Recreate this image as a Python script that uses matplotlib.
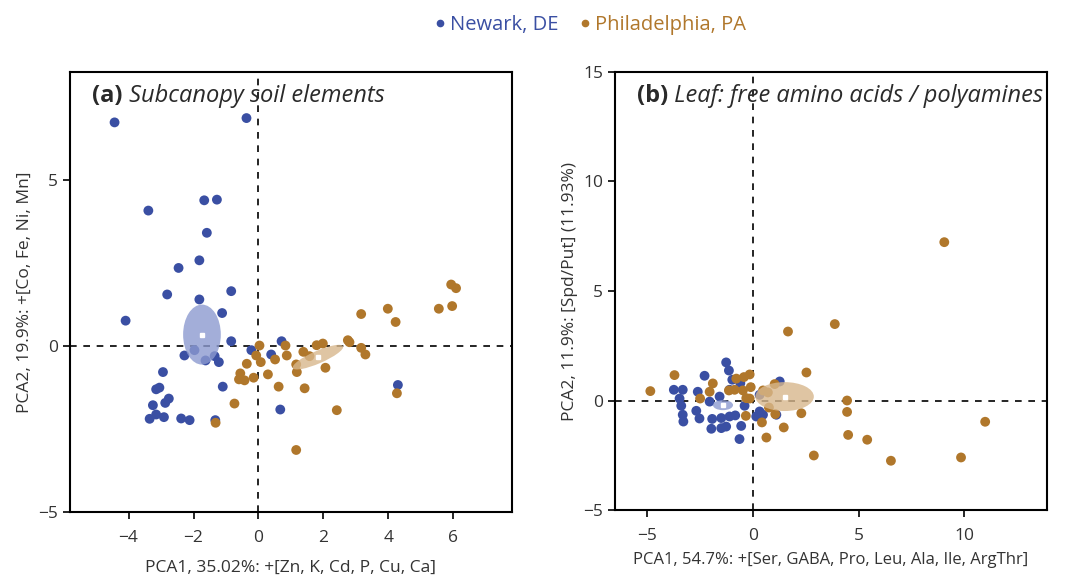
import matplotlib
matplotlib.use("Agg")
import matplotlib.pyplot as plt
from matplotlib.patches import Ellipse
from matplotlib.lines import Line2D

plt.rcParams['font.family'] = ['Open Sans', 'DejaVu Sans']

BLUE = "#3a4fa3"
ORANGE = "#b0772b"
BLUE_ELL = "#8c9ad0"
ORANGE_ELL = "#d8b78c"

# --- panel (a): subcanopy soil elements ---
a_newark_x = [-4.43, -0.37, -3.39, -1.67, -1.28, -1.59, -1.82, -2.46, -2.81, -1.82,
              -0.84, -1.12, -4.09, -0.84, -1.97, -2.28, -1.63, -1.35, -1.22, -0.22,
              0.71, 0.39, -2.94, -3.15, -3.05, -1.10, -2.76, -2.87, -3.25, -3.35,
              -3.15, -2.91, -2.38, -2.12, -1.33, 0.67, 4.29]
a_newark_y = [6.75, 6.88, 4.09, 4.40, 4.42, 3.42, 2.59, 2.36, 1.56, 1.41,
              1.66, 1.00, 0.77, 0.15, -0.12, -0.28, -0.43, -0.30, -0.48, -0.12,
              0.15, -0.25, -0.78, -1.30, -1.25, -1.22, -1.58, -1.71, -1.78, -2.19,
              -2.06, -2.14, -2.18, -2.23, -2.23, -1.91, -1.17]
a_phila_x = [3.16, 3.98, 5.55, 5.96, 5.93, 6.08, 4.22, 2.75, 2.80, 3.16,
             3.29, 1.79, 1.98, 0.83, 0.03, 0.87, 1.38, 1.57, 1.16, 1.18,
             2.06, -0.07, 0.07, 0.51, -0.36, -0.56, -0.60, -0.43, -0.15, 0.29,
             0.62, 1.42, -0.74, 2.41, 4.26, -1.32, 1.16]
a_phila_y = [0.97, 1.13, 1.13, 1.21, 1.86, 1.75, 0.73, 0.18, 0.12, -0.05,
             -0.25, 0.03, 0.08, 0.02, 0.02, -0.28, -0.17, -0.30, -0.55, -0.78,
             -0.65, -0.28, -0.48, -0.40, -0.53, -0.82, -1.00, -1.03, -0.95, -0.85,
             -1.22, -1.27, -1.73, -1.93, -1.42, -2.31, -3.13]
# ellipses: (cx, cy, width, height, angle)
a_newark_ell = (-1.74, 0.35, 1.16, 1.81, 0)
a_phila_ell = (1.83, -0.33, 1.68, 0.38, 23)

# --- panel (b): leaf free amino acids / polyamines ---
b_newark_x = [-1.25, -1.12, -2.27, -0.96, -3.72, -3.30, -2.59, -3.45, -3.37, -3.30,
              -3.27, -2.66, -2.51, -2.03, -1.91, -1.95, -1.56, -1.48, -1.48, -1.25,
              -1.09, -0.82, -0.54, -0.62, -0.38, -0.58, 0.33, 1.28, 0.33, 0.49,
              0.17, 1.12, -1.09]
b_newark_y = [1.74, 1.37, 1.13, 0.95, 0.49, 0.49, 0.40, 0.09, -0.24, -0.65,
              -0.96, -0.47, -0.82, -0.05, -0.84, -1.29, 0.18, -0.80, -1.26, -1.19,
              -0.73, -0.68, -1.16, -1.76, -0.24, 0.79, 0.26, 0.87, -0.50, -0.65,
              -0.73, -0.65, 0.49]
b_phila_x = [9.05, 3.88, 1.67, 2.54, -3.69, -4.83, -2.48, -2.03, -1.88, -0.77,
             -0.41, -0.14, -1.12, -0.85, -0.46, -0.09, -0.30, -0.14, -0.32, 0.49,
             0.72, 1.04, 0.77, 1.07, 0.44, 1.47, 0.65, 2.30, 4.46, 4.46,
             4.51, 5.41, 2.89, 6.53, 9.84, 10.98]
b_phila_y = [7.23, 3.49, 3.15, 1.28, 1.16, 0.43, 0.09, 0.40, 0.78, 1.00,
             1.07, 1.19, 0.46, 0.49, 0.46, 0.61, 0.11, 0.09, -0.70, 0.46,
             0.37, 0.75, -0.32, -0.62, -1.00, -1.23, -1.69, -0.58, 0.00, -0.52,
             -1.57, -1.79, -2.51, -2.75, -2.60, -0.97]
b_newark_ell = (-1.40, -0.21, 0.95, 0.46, 0)
b_phila_ell = (1.51, 0.18, 2.76, 1.32, 0)

fig = plt.figure(figsize=(10.71, 5.75), dpi=100)
ax_a = fig.add_axes([0.0654, 0.1096, 0.4126, 0.7652])
ax_b = fig.add_axes([0.5742, 0.1130, 0.4034, 0.7618])


def draw_panel(ax, nx, ny, px, py, nell, pell, xlim, ylim, xticks, yticks):
    ax.axhline(0, color="black", ls=(0, (4, 4)), lw=1.2, zorder=1)
    ax.axvline(0, color="black", ls=(0, (4, 4)), lw=1.2, zorder=1)
    ax.scatter(nx, ny, s=50, color=BLUE, edgecolors="none", zorder=3)
    ax.scatter(px, py, s=50, color=ORANGE, edgecolors="none", zorder=3)
    for (cx, cy, w, h, ang), col in [(nell, BLUE_ELL), (pell, ORANGE_ELL)]:
        ax.add_patch(Ellipse((cx, cy), w, h, angle=ang, facecolor=col,
                             edgecolor="none", alpha=0.8, zorder=4))
        ax.plot(cx, cy, marker="s", ms=3, color="white", zorder=5)
    ax.set_xlim(*xlim); ax.set_ylim(*ylim)
    ax.set_xticks(xticks); ax.set_yticks(yticks)
    ax.set_xticklabels([f"{t}".replace("-", "\u2212") for t in xticks])
    ax.set_yticklabels([f"{t}".replace("-", "\u2212") for t in yticks])
    ax.tick_params(direction="out", length=5, width=1.2, labelsize=12.5,
                   labelcolor="#333333")
    ax.tick_params(axis="x", pad=8)
    for sp in ax.spines.values():
        sp.set_linewidth(1.5)


draw_panel(ax_a, a_newark_x, a_newark_y, a_phila_x, a_phila_y,
           a_newark_ell, a_phila_ell, (-5.8, 7.8), (-5, 8.27),
           [-4, -2, 0, 2, 4, 6], [-5, 0, 5])
draw_panel(ax_b, b_newark_x, b_newark_y, b_phila_x, b_phila_y,
           b_newark_ell, b_phila_ell, (-6.5, 13.9), (-5, 15),
           [-5, 0, 5, 10], [-5, 0, 5, 10, 15])

ax_a.set_xlabel("PCA1, 35.02%: +[Zn, K, Cd, P, Cu, Ca]", fontsize=12.5,
                color="#333333", labelpad=10)
ax_a.set_ylabel("PCA2, 19.9%: +[Co, Fe, Ni, Mn]", fontsize=12.5, color="#333333")
ax_b.set_xlabel("PCA1, 54.7%: +[Ser, GABA, Pro, Leu, Ala, Ile, ArgThr]", fontsize=12,
                color="#333333", labelpad=6)
ax_b.set_ylabel("PCA2, 11.9%: [Spd/Put] (11.93%)", fontsize=12.5, color="#333333")

for ax, tag, title, x0 in [(ax_a, "(a)", "Subcanopy soil elements", 0.05),
                           (ax_b, "(b)", "Leaf: free amino acids / polyamines", 0.05)]:
    t = ax.text(x0, 0.972, tag, transform=ax.transAxes, fontsize=17,
                fontweight="bold", color="#2a2a2a", va="top")
    ax.annotate(" " + title, xy=(1, 0), xycoords=t, va="bottom", fontsize=17,
                fontstyle="italic", color="#2a2a2a")

handles = [Line2D([], [], ls="none", marker="o", ms=4.5, color=BLUE),
           Line2D([], [], ls="none", marker="o", ms=4.5, color=ORANGE)]
fig.legend(handles, ["Newark, DE", "Philadelphia, PA"], loc="upper center",
           bbox_to_anchor=(0.551, 1.005), ncol=2, frameon=False, fontsize=14.5,
           handletextpad=0.2, handlelength=0.6, columnspacing=1.0,
           labelcolor=[BLUE, ORANGE])

fig.savefig("out.png", dpi=100)
